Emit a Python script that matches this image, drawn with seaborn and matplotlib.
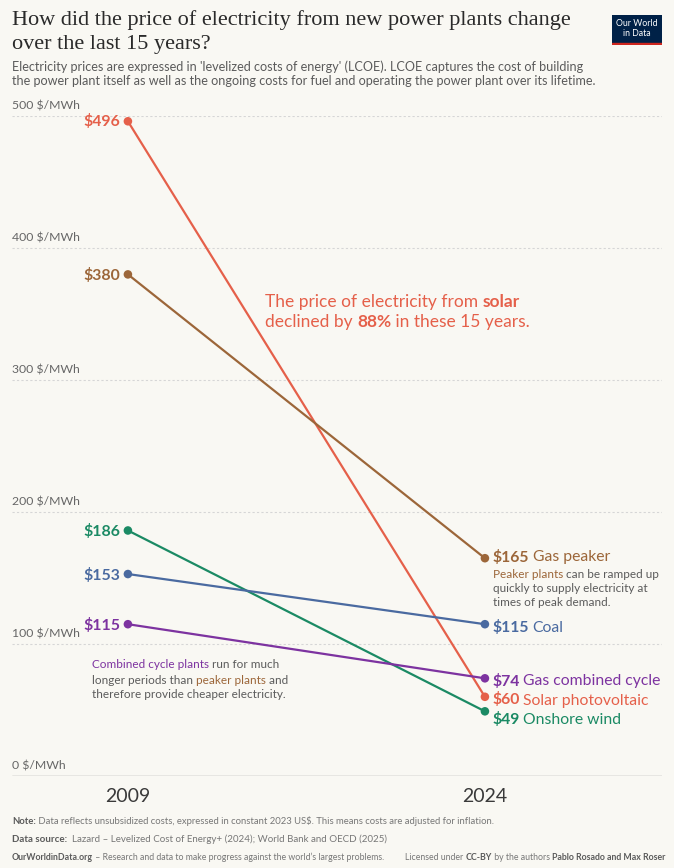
import numpy as np
import pandas as pd
import matplotlib
matplotlib.use("Agg")
import matplotlib.pyplot as plt
import seaborn as sns


# -----------------------
# Data
# -----------------------
years = [2009, 2024]
sources = ["Solar photovoltaic", "Gas peaker", "Onshore wind", "Coal", "Gas combined cycle"]
price_2009 = [496, 380, 186, 153, 115]
price_2024 = [60, 165, 49, 115, 74]
y_ticks = [0, 100, 200, 300, 400, 500]

colors = {
    "Solar photovoltaic": "#e5604a",
    "Gas peaker": "#9c6639",
    "Onshore wind": "#1b8a64",
    "Coal": "#4a6aa0",
    "Gas combined cycle": "#7d33a0",
}

df = pd.DataFrame({
    "source": sources * 2,
    "year": [years[0]] * len(sources) + [years[1]] * len(sources),
    "price": price_2009 + price_2024,
})

BG = "#f9f8f3"
GREY = "#5b5b5b"
W, H = 674, 868

sns.set_theme(style="white")
plt.rcParams["font.family"] = ["Lato", "DejaVu Sans"]


def fx(px):
    return px / W


def fy(py):
    return 1 - py / H


fig = plt.figure(figsize=(6.74, 8.68), dpi=100)
fig.patch.set_facecolor(BG)
ax = fig.add_axes([fx(12), fy(776), fx(662) - fx(12), fy(116) - fy(776)])
ax.set_facecolor(BG)


# -----------------------
# Lines and points
# -----------------------
sns.lineplot(data=df, x="year", y="price", hue="source", palette=colors,
             linewidth=1.6, legend=False, ax=ax, zorder=3)
sns.scatterplot(data=df, x="year", y="price", hue="source", palette=colors,
                s=38, edgecolor="none", legend=False, ax=ax, zorder=4)

ax.set_xlim(2004.13, 2031.44)
ax.set_ylim(0, 500)
for c in ax.collections:
    c.set_clip_on(False)

for v in y_ticks[1:]:
    ax.axhline(v, color="#d6d6d6", lw=0.8, ls=(0, (2, 2)), zorder=1)
ax.axhline(0, color="#a0a0a0", lw=1.0, zorder=1)
for v in y_ticks:
    ax.annotate(f"{v} $/MWh", xy=(0, v), xycoords=("axes fraction", "data"),
                xytext=(0, 3), textcoords="offset points", ha="left", va="bottom",
                fontsize=8.8, color="#666666")

ax.set_yticks([])
ax.set_xticks(years)
ax.set_xticklabels([str(y) for y in years], fontsize=14, color="#3a3a3a")
ax.tick_params(axis="x", length=0, pad=9)
ax.set_xlabel("")
ax.set_ylabel("")
for s in ax.spines.values():
    s.set_visible(False)


# -----------------------
# Helper for mixed-style text runs
# -----------------------
def runs(x, y, parts, size, gap=0):
    t = None
    for i, (txt, col, wt) in enumerate(parts):
        if i == 0:
            t = fig.text(fx(x), fy(y), txt, color=col, fontweight=wt,
                         fontsize=size, ha="left", va="center")
        else:
            t = ax.annotate(txt, xy=(1, 0), xycoords=t, ha="left", va="bottom",
                            xytext=(gap, 0), textcoords="offset points",
                            color=col, fontweight=wt, fontsize=size,
                            annotation_clip=False)
    return t


# left value labels
left_y = [122, 275, 531, 575, 625]
for name, val, py in zip(sources, price_2009, left_y):
    fig.text(fx(120), fy(py), f"${val}", color=colors[name], fontsize=11.4,
             fontweight="bold", ha="right", va="center")

# right value labels
right_y = [700, 557, 719, 628, 681]
for name, val, py in zip(sources, price_2024, right_y):
    runs(493, py, [(f"${val}", colors[name], "bold"),
                   (name, colors[name], "normal")], 11.3, gap=2.2)

# notes
PK = colors["Gas peaker"]
runs(493, 574, [("Peaker plants", PK, "normal"), (" can be ramped up", GREY, "normal")], 8.5)
runs(493, 589, [("quickly to supply electricity at", GREY, "normal")], 8.5)
runs(493, 603, [("times of peak demand.", GREY, "normal")], 8.5)

CC = colors["Gas combined cycle"]
runs(92, 665, [("Combined cycle plants", CC, "normal"), (" run for much", GREY, "normal")], 8.5)
runs(92, 680, [("longer periods than ", GREY, "normal"), ("peaker plants", PK, "normal"),
               (" and", GREY, "normal")], 8.5)
runs(92, 695, [("therefore provide cheaper electricity.", GREY, "normal")], 8.5)

SO = colors["Solar photovoltaic"]
runs(265, 302, [("The price of electricity from ", SO, "normal"), ("solar", SO, "bold")], 12.5)
runs(265, 322, [("declined by ", SO, "normal"), ("88%", SO, "bold"),
                (" in these 15 years.", SO, "normal")], 12.5)


# -----------------------
# Title block
# -----------------------
fig.text(fx(12), fy(20), "How did the price of electricity from new power plants change",
         fontsize=16, family=["Liberation Serif", "DejaVu Serif"], color="#2a2a2a",
         ha="left", va="center")
fig.text(fx(12), fy(44), "over the last 15 years?",
         fontsize=16, family=["Liberation Serif", "DejaVu Serif"], color="#2a2a2a",
         ha="left", va="center")
fig.text(fx(12), fy(67), "Electricity prices are expressed in 'levelized costs of energy' (LCOE). "
         "LCOE captures the cost of building", fontsize=9.1, color=GREY, ha="left", va="center")
fig.text(fx(12), fy(81), "the power plant itself as well as the ongoing costs for fuel and "
         "operating the power plant over its lifetime.", fontsize=9.1, color=GREY,
         ha="left", va="center")

# logo
logo = fig.add_axes([fx(612), fy(45), fx(662) - fx(612), fy(15) - fy(45)])
logo.set_facecolor("#002147")
logo.set_xticks([])
logo.set_yticks([])
for s in logo.spines.values():
    s.set_visible(False)
logo.axhspan(0, 0.07, color="#ce261e")
logo.set_ylim(0, 1)
logo.text(0.5, 0.55, "Our World\nin Data", color="white", fontsize=6.3,
          ha="center", va="center", linespacing=1.0)


# -----------------------
# Footer
# -----------------------
runs(12, 822, [("Note:", GREY, "bold"),
               (" Data reflects unsubsidized costs, expressed in constant 2023 US$. "
                "This means costs are adjusted for inflation.", "#777777", "normal")], 6.85)
runs(12, 840, [("Data source:", GREY, "bold"),
               ("  Lazard \u2013 Levelized Cost of Energy+ (2024); World Bank and OECD (2025)",
                "#777777", "normal")], 7)
runs(12, 857, [("OurWorldinData.org", GREY, "bold"),
               (" \u2013 Research and data to make progress against the world\u2019s largest problems.",
                "#777777", "normal")], 6.35)
runs(405, 857, [("Licensed under ", "#777777", "normal"), ("CC-BY", GREY, "bold"),
                (" by the authors ", "#777777", "normal"),
                ("Pablo Rosado and Max Roser", GREY, "bold")], 6.3)

fig.savefig("out.png", dpi=100, facecolor=BG)
